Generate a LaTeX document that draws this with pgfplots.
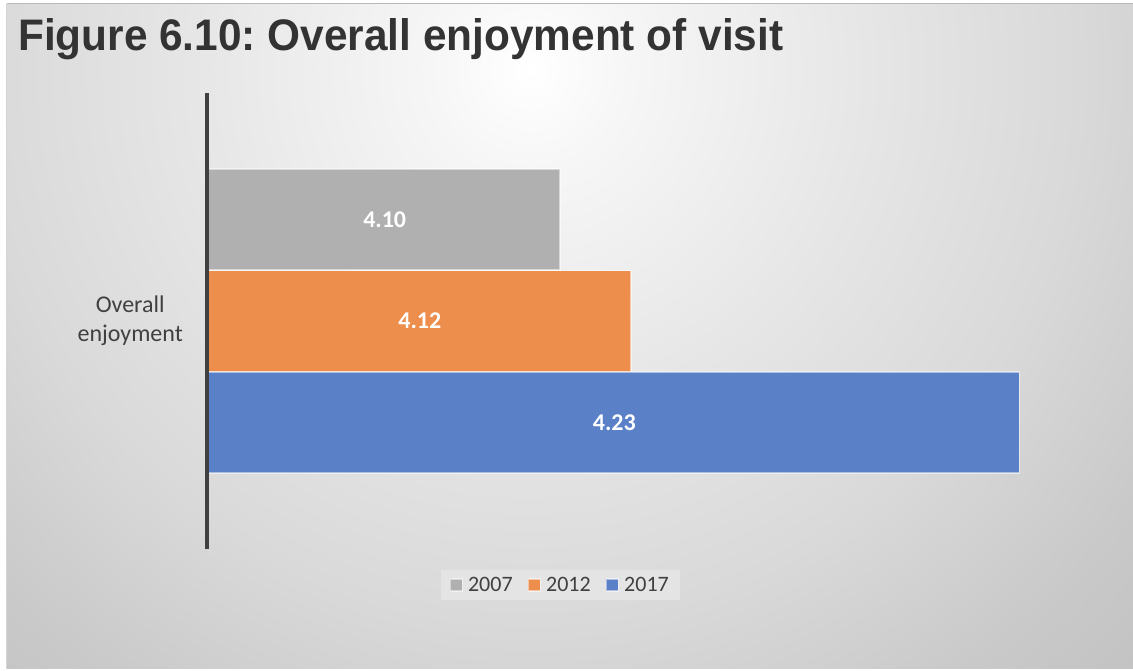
\documentclass[border=0pt]{standalone}
\usepackage{pgfplots}
\pgfplotsset{compat=1.18}
\usepackage{fontspec}
\setmainfont{Carlito}
\newfontfamily\titlefont{Liberation Sans}
\frenchspacing
\definecolor{bar2007}{RGB}{176,176,176}
\definecolor{bar2012}{RGB}{238,142,77}
\definecolor{bar2017}{RGB}{90,128,200}
\definecolor{axisgray}{RGB}{64,64,64}
\definecolor{textgray}{RGB}{64,64,64}
\definecolor{titlegray}{RGB}{51,51,51}
\definecolor{legendbg}{RGB}{228,228,228}
\definecolor{bgA}{RGB}{246,246,246}
\definecolor{bgB}{RGB}{230,230,230}
\definecolor{bgC}{RGB}{217,217,217}
\definecolor{bgD}{RGB}{201,201,201}
\definecolor{bgE}{RGB}{195,195,195}
\definecolor{framegray}{RGB}{185,185,185}
\pgfdeclareradialshading{bgshade}{\pgfpointorigin}{color(0bp)=(white); color(2.8bp)=(bgA); color(9.4bp)=(bgB); color(15.3bp)=(bgC); color(20.6bp)=(bgD); color(23.6bp)=(bgE); color(50bp)=(bgE)}
\begin{document}
\begin{tikzpicture}
\fill[white] (0,0) rectangle (1133pt,-670pt);
\begin{scope}
\clip (6.5pt,-3.5pt) rectangle (1133pt,-668.5pt);
\shade[shading=bgshade] (530pt,-70pt) circle (900pt);
\end{scope}
\draw[framegray, line width=1.2pt] (6.5pt,-3.5pt) -- (1133pt,-3.5pt);
\draw[framegray!60, line width=0.6pt] (6.5pt,-3.5pt) -- (6.5pt,-668.5pt);
\node[anchor=base west, inner sep=0pt, text=titlegray] at (18pt,-50pt)
  {\resizebox{765pt}{32pt}{\titlefont\bfseries Figure 6.10: Overall enjoyment of visit}};
\begin{axis}[
  at={(207pt,-549pt)}, anchor=south west,
  scale only axis, width=883pt, height=456pt,
  xmin=4, xmax=4.25, ymin=-0.245, ymax=4.245,
  xbar, bar width=101pt, bar shift=0pt,
  hide x axis,
  axis y line*=left,
  axis on top,
  y axis line style={line width=4.5pt, color=axisgray, -},
  ytick={2}, yticklabels={Overall\\enjoyment},
  major tick length=0pt,
  yticklabel style={align=center, inner sep=0pt, xshift=-24pt, text=textgray,
    font=\fontsize{24}{29}\selectfont},
  point meta=x,
  nodes near coords={\pgfmathprintnumber[fixed,zerofill,precision=2,assume math mode=true]{\pgfplotspointmeta}},
  every node near coord/.append style={anchor=center, text=white, font=\fontsize{24}{28}\selectfont\bfseries},
  legend columns=3,
  legend image code/.code={\fill[#1] (0pt,-6pt) rectangle (12pt,6pt);},
  legend style={at={(axis description cs:0.4,-0.079)}, anchor=center,
    fill=legendbg, draw=none, text=textgray,
    font=\fontsize{22}{25}\selectfont,
    inner xsep=9pt, inner ysep=5pt,
    /tikz/every odd column/.append style={column sep=3pt},
    /tikz/every even column/.append style={column sep=13pt}},
]
\addplot[fill=bar2007, draw=white, draw opacity=0.5, line width=1.5pt,
  every node near coord/.append style={xshift=-175.5pt}] coordinates {(4.10,3)};
\addplot[fill=bar2012, draw=white, draw opacity=0.5, line width=1.5pt,
  every node near coord/.append style={xshift=-211pt}] coordinates {(4.12,2)};
\addplot[fill=bar2017, draw=white, draw opacity=0.5, line width=1.5pt,
  every node near coord/.append style={xshift=-405pt}] coordinates {(4.23,1)};
\legend{2007,2012,2017}
\end{axis}
\pgfresetboundingbox
\useasboundingbox (0,0) rectangle (1133pt,-670pt);
\end{tikzpicture}
\end{document}
